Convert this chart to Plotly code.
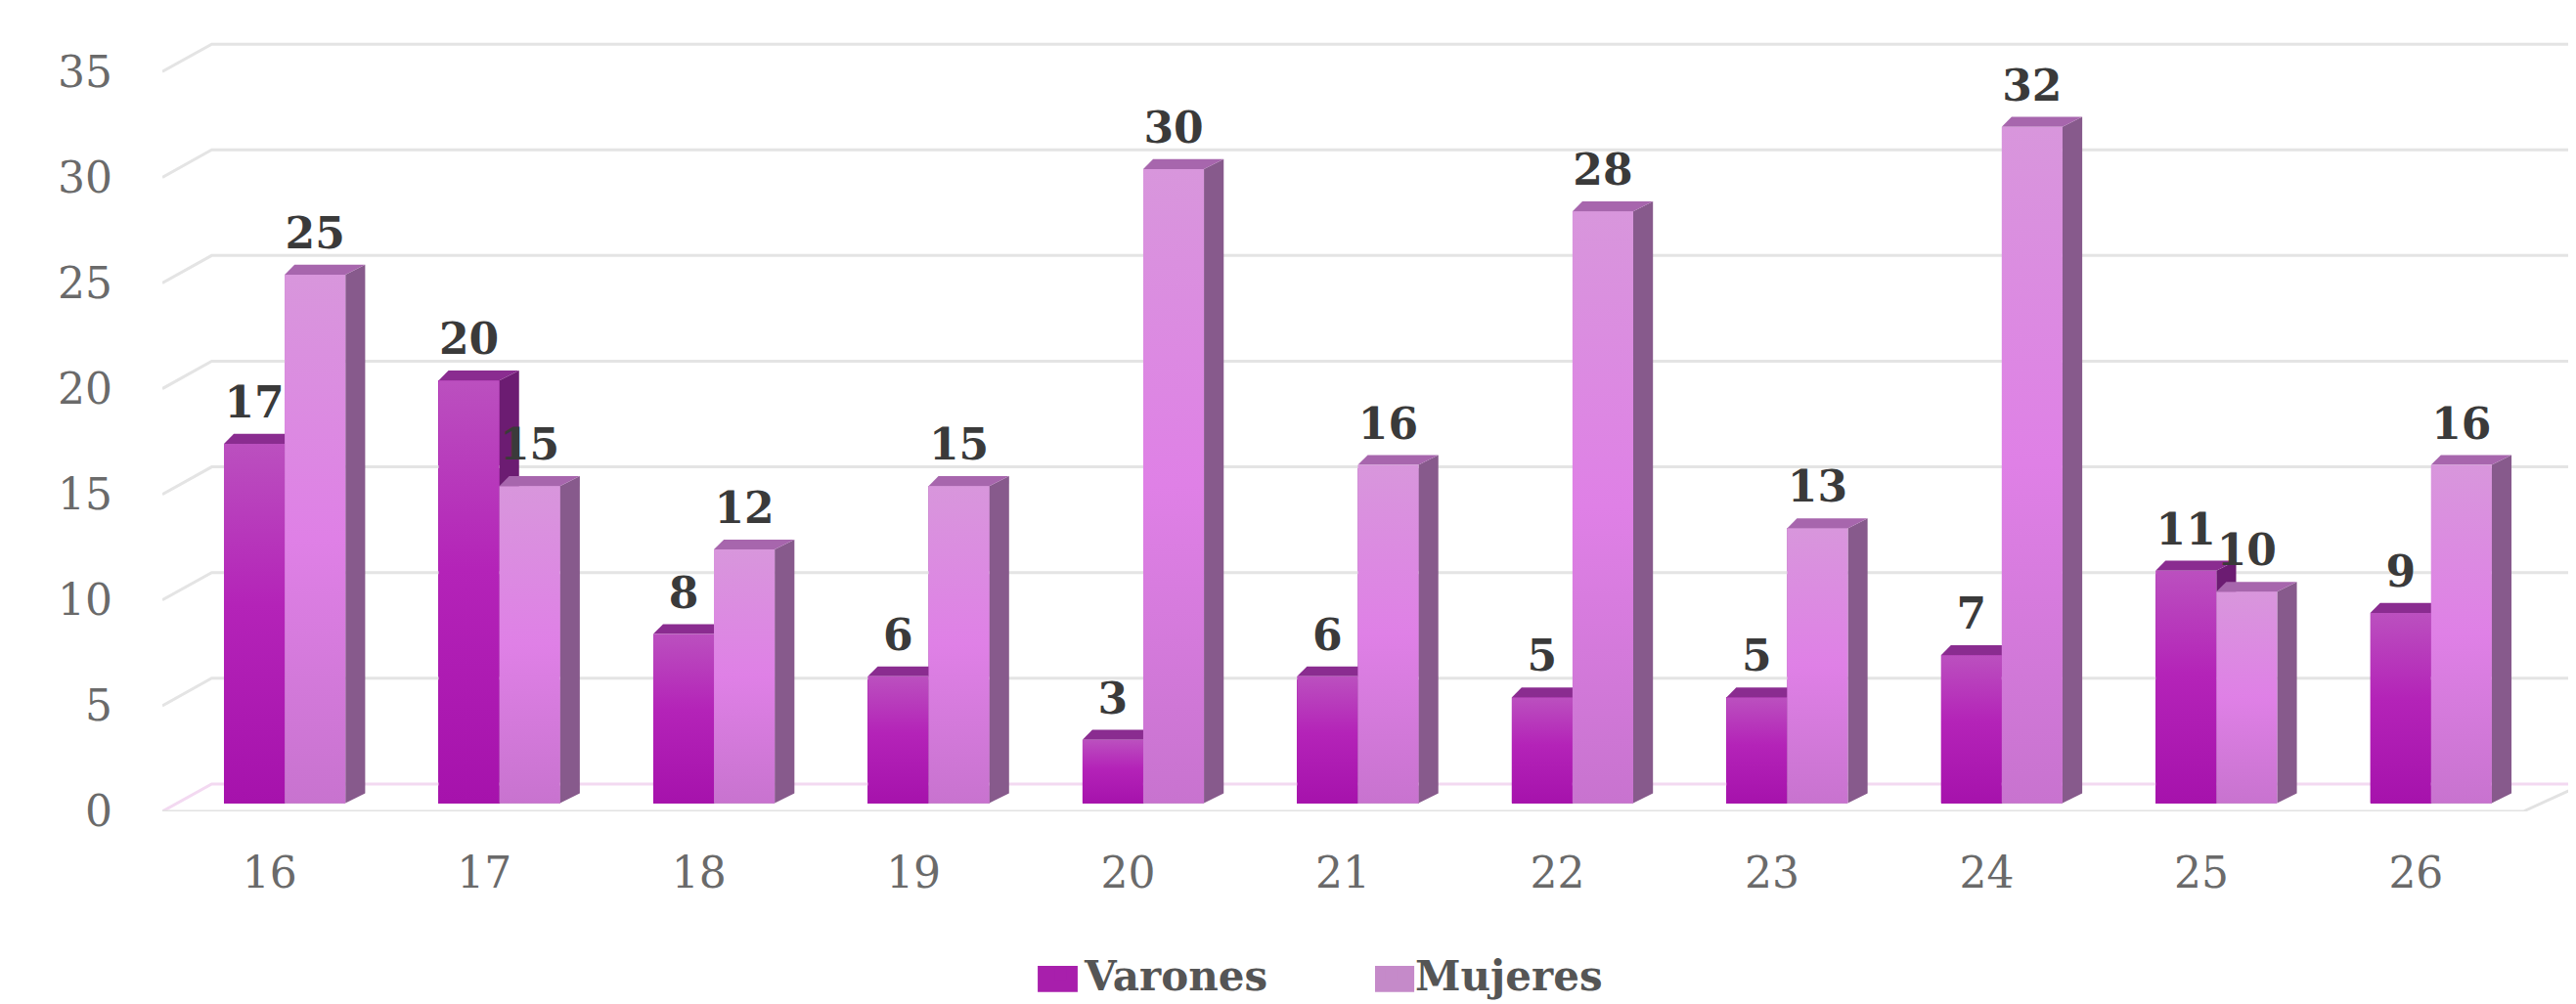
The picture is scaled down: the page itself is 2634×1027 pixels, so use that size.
import plotly.graph_objects as go

categories = ["16", "17", "18", "19", "20", "21", "22", "23", "24", "25", "26"]
varones = [17, 20, 8, 6, 3, 6, 5, 5, 7, 11, 9]
mujeres = [25, 15, 12, 15, 30, 16, 28, 13, 32, 10, 16]
y_ticks = [0, 5, 10, 15, 20, 25, 30, 35]

# projection of the depth axis, in data units
BACK_X, BACK_Y = 0.23, 1.3
FRONT_X, FRONT_Y = 0.07, 0.39
BAR_W = 0.283
DEPTH_X, DEPTH_Y = 0.092, 0.47
LABEL_UP = 2.15
idx = list(range(len(categories)))
X0, X1, XR = -0.5, 10.5, 10.782
COL_V, COL_M = "#a81fac", "#c58ac9"

fig = go.Figure()

# bars
fig.add_trace(go.Bar(x=[i + FRONT_X - BAR_W / 2 for i in idx], y=varones, base=FRONT_Y, width=BAR_W,
                     name="Varones", marker=dict(color=COL_V, line_width=0), hoverinfo="skip"))
fig.add_trace(go.Bar(x=[i + FRONT_X + BAR_W / 2 for i in idx], y=mujeres, base=FRONT_Y, width=BAR_W,
                     name="Mujeres", marker=dict(color=COL_M, line_width=0), hoverinfo="skip"))


def poly(xs, ys, color=None, grad=None):
    kw = dict(fillcolor=color) if grad is None else dict(
        fillgradient=dict(type="vertical", colorscale=grad))
    fig.add_trace(go.Scatter(x=xs, y=ys, mode="lines", fill="toself", line=dict(width=0),
                             showlegend=False, hoverinfo="skip", **kw))


# gridlines and floor
for v in y_ticks:
    col = "#f3d9f1" if v == 0 else "#e4e4e4"
    fig.add_trace(go.Scatter(x=[X0, X0 + BACK_X, XR], y=[v, v + BACK_Y, v + BACK_Y], mode="lines",
                             line=dict(color=col, width=3), showlegend=False, hoverinfo="skip"))
fig.add_trace(go.Scatter(x=[X0, X1, XR], y=[0, 0, BACK_Y], mode="lines",
                         line=dict(color="#e2e2e2", width=3), showlegend=False, hoverinfo="skip"))


def bar3d(left, val, front, side, top):
    right = left + BAR_W
    t = FRONT_Y + val
    b = FRONT_Y
    poly([right, right + DEPTH_X, right + DEPTH_X, right],
         [b, b + DEPTH_Y, t + DEPTH_Y, t], color=side)
    poly([left, left + DEPTH_X * 0.5, right + DEPTH_X, right],
         [t, t + DEPTH_Y, t + DEPTH_Y, t], color=top)
    poly([left, right, right, left], [b, b, t, t], grad=front)


GRAD_V = [[0, "#a612ac"], [0.55, "#b423b8"], [1, "#bb50bf"]]
GRAD_M = [[0, "#c873cf"], [0.5, "#df80e6"], [1, "#d896dc"]]
for i in idx:
    bar3d(i + FRONT_X - BAR_W, varones[i], GRAD_V, "#6c1c72", "#8a2c90")
    bar3d(i + FRONT_X, mujeres[i], GRAD_M, "#875a8c", "#a766ad")

LABEL_FONT = dict(family="DejaVu Serif", size=44, color="#3a3a3a", weight="bold")
fig.add_trace(go.Scatter(x=[i + FRONT_X - BAR_W / 2 for i in idx],
                         y=[v + LABEL_UP for v in varones],
                         text=[str(v) for v in varones], mode="text", textposition="middle center",
                         textfont=LABEL_FONT, showlegend=False, hoverinfo="skip"))
fig.add_trace(go.Scatter(x=[i + FRONT_X + BAR_W / 2 for i in idx],
                         y=[v + LABEL_UP for v in mujeres],
                         text=[str(v) for v in mujeres], mode="text", textposition="middle center",
                         textfont=LABEL_FONT, showlegend=False, hoverinfo="skip"))

TICK_FONT = dict(family="DejaVu Serif", size=44, color="#6a6a6a")
fig.update_layout(
    width=2634, height=1027,
    paper_bgcolor="white", plot_bgcolor="white",
    barmode="overlay", bargap=0,
    margin=dict(l=158, r=0, t=22, b=205, autoexpand=False),
    showlegend=True,
    legend=dict(orientation="h", x=0.3607, xref="paper", xanchor="left", yanchor="middle",
                y=-0.208, font=dict(family="DejaVu Serif", size=42, color="#555555", weight="bold"),
                itemwidth=40, entrywidth=283, entrywidthmode="pixels", bgcolor="rgba(0,0,0,0)"),
    xaxis=dict(range=[X0, XR], tickmode="array", tickvals=idx, ticktext=categories, showgrid=False,
               zeroline=False, showline=False, ticks="", ticklabelstandoff=33, tickfont=TICK_FONT),
    yaxis=dict(range=[0, 37], tickmode="array", tickvals=y_ticks, showgrid=False, zeroline=False,
               showline=False, ticks="", ticklabelstandoff=50, tickfont=TICK_FONT),
    shapes=[
        dict(type="rect", xref="paper", yref="paper", x0=0.3615, x1=0.378, y0=-0.231, y1=-0.1975,
             fillcolor=COL_V, line_width=0),
        dict(type="rect", xref="paper", yref="paper", x0=0.5008, x1=0.5170, y0=-0.231, y1=-0.1975,
             fillcolor=COL_M, line_width=0),
    ],
)
fig.write_html("out.html")
